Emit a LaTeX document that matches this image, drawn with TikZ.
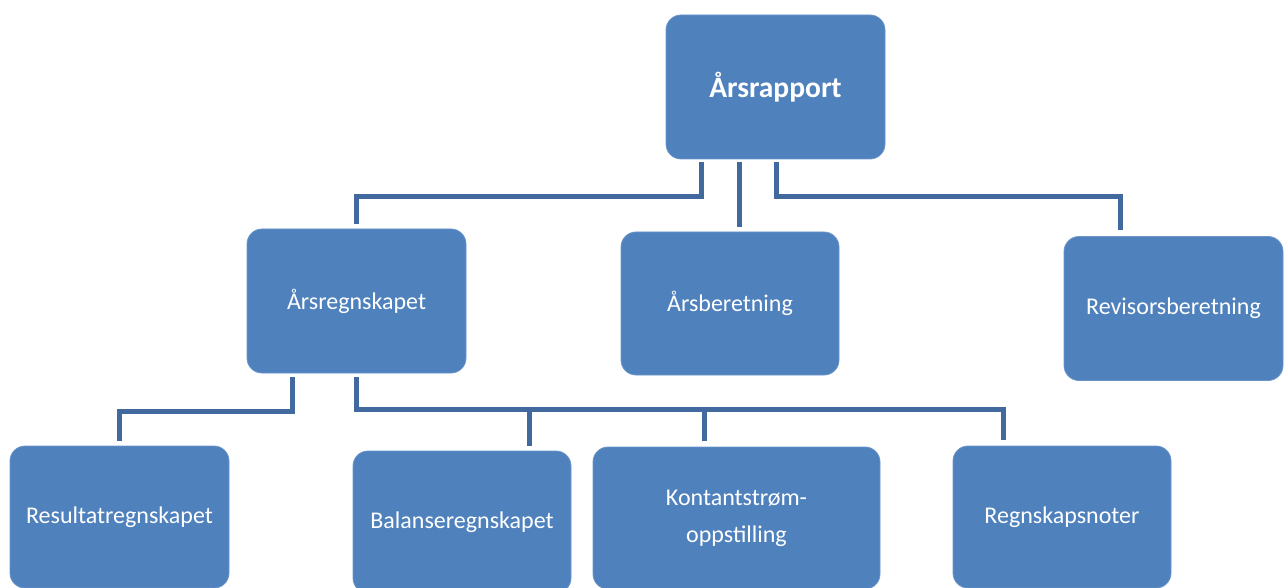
\documentclass[tikz,border=0pt]{standalone}
\usepackage{fontspec}
\setmainfont{Carlito}
\usetikzlibrary{calc}
\definecolor{boxblue}{HTML}{4F81BD}
\definecolor{boxedge}{HTML}{6B95C9}
\definecolor{connblue}{HTML}{41699E}
\tikzset{
  orgbox/.style={rectangle, rounded corners=15pt, fill=boxblue, draw=boxedge, line width=0.8pt,
    text=white, font=\fontsize{24}{29}\selectfont, align=center, inner sep=0pt},
  conn/.style={draw=connblue, line width=5pt, line join=miter}
}
\begin{document}
\begin{tikzpicture}[x=1pt,y=-1pt]
\useasboundingbox (0,0) rectangle (1285,588);
\node[orgbox, minimum width=219pt, minimum height=144pt, font=\fontsize{29.5}{35}\selectfont\bfseries] (rap) at (775.5,87) {Årsrapport};
\node[orgbox, minimum width=219pt, minimum height=144pt] (regn) at (356.5,301) {Årsregnskapet};
\node[orgbox, minimum width=218pt, minimum height=143pt] (ber) at (730,303.5) {Årsberetning};
\node[orgbox, minimum width=219pt, minimum height=144pt] (rev) at (1173.5,308.5) {Revisorsberetning};
\node[orgbox, minimum width=219pt, minimum height=142pt] (res) at (119.5,517) {Resultatregnskapet};
\node[orgbox, minimum width=218pt, minimum height=142pt] (bal) at (462,522) {Balanseregnskapet};
\node[orgbox, minimum width=287pt, minimum height=142pt] (kon) at (736.5,518) {Kontantstrøm-\\[8pt]oppstilling};
\node[orgbox, minimum width=218pt, minimum height=142pt] (not) at (1062,517) {Regnskapsnoter};
\coordinate (row1) at (0,197);
\coordinate (row2l) at (0,411);
\coordinate (row2r) at (0,409);
% top level connectors
\coordinate (a1) at ([xshift=-74.5pt,yshift=-3pt]rap.south);
\coordinate (a2) at ([xshift=-36.5pt,yshift=-3pt]rap.south);
\coordinate (a3) at ([xshift=0.5pt,yshift=-3pt]rap.south);
\coordinate (e1) at ([yshift=5pt]regn.north);
\coordinate (e2) at ([xshift=9pt,yshift=5pt]ber.north);
\coordinate (e3) at ([xshift=-53.5pt,yshift=6pt]rev.north);
\draw[conn] (a1) -- (a1 |- row1) -- (row1 -| e1) -- (e1);
\draw[conn] (a2) -- (a2 |- e2);
\draw[conn] (a3) -- (a3 |- row1) -- (row1 -| e3) -- (e3);
% second level connectors
\coordinate (b1) at ([xshift=-64.5pt,yshift=-4pt]regn.south);
\coordinate (b2) at ([xshift=-0.5pt,yshift=-4pt]regn.south);
\coordinate (f1) at ([xshift=-0.5pt,yshift=5pt]res.north);
\coordinate (f2) at ([xshift=67pt,yshift=5pt]bal.north);
\coordinate (f3) at ([xshift=-32.5pt,yshift=6pt]kon.north);
\coordinate (f4) at ([xshift=-59pt,yshift=6pt]not.north);
\draw[conn] (b1) -- (b1 |- row2l) -- (row2l -| f1) -- (f1);
\draw[conn] (b2) -- (b2 |- row2r) -- (row2r -| f4) -- (f4);
\draw[conn] (f2 |- row2r) -- (f2);
\draw[conn] (f3 |- row2r) -- (f3);
\end{tikzpicture}
\end{document}
